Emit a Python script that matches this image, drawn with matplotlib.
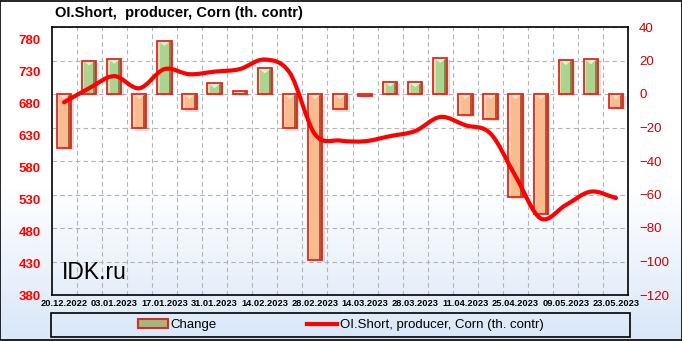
import matplotlib.pyplot as plt
import numpy as np
from matplotlib.colors import LinearSegmentedColormap
from matplotlib.patches import Rectangle, Patch, Polygon
from matplotlib.lines import Line2D
from matplotlib.path import Path
from matplotlib.patches import PathPatch

# Datos
fechas = ['20.12.2022', '27.12.2022', '03.01.2023', '10.01.2023', '17.01.2023', '24.01.2023',
          '31.01.2023', '07.02.2023', '14.02.2023', '21.02.2023', '28.02.2023', '07.03.2023',
          '14.03.2023', '21.03.2023', '28.03.2023', '04.04.2023', '11.04.2023', '18.04.2023',
          '25.04.2023', '02.05.2023', '09.05.2023', '16.05.2023', '23.05.2023']
cambio = [-32, 20, 21, -20.5, 31.8, -9.2, 6.4, 1.6, 15.3, -20.5, -99, -9.2, -1.2, 7.4, 7,
          21.5, -12.5, -15, -61.5, -71.6, 20.3, 20.7, -8.2]
oi_short = [682, 704, 723, 704, 734, 726, 730, 734, 749, 728, 632, 622, 621, 629, 637,
            659, 646, 633, 566, 500, 521, 542, 532]

titulo = 'OI.Short,  producer, Corn (th. contr)'
narrow = ['Liberation Sans Narrow', 'Liberation Sans', 'DejaVu Sans']
arial = ['Liberation Sans', 'DejaVu Sans']


def suavizar(xs, ys):
    """Camino Catmull-Rom como curvas Bezier cubicas."""
    xs = np.asarray(xs, float)
    ys = np.asarray(ys, float)
    n = len(xs)
    mx = np.gradient(xs)
    my = np.zeros(n)
    my[1:-1] = (ys[2:] - ys[:-2]) / 2
    my[0] = ys[1] - ys[0]
    my[-1] = ys[-1] - ys[-2]
    verts = [(xs[0], ys[0])]
    codes = [Path.MOVETO]
    for i in range(n - 1):
        verts += [(xs[i] + mx[i] / 3, ys[i] + my[i] / 3),
                  (xs[i + 1] - mx[i + 1] / 3, ys[i + 1] - my[i + 1] / 3),
                  (xs[i + 1], ys[i + 1])]
        codes += [Path.CURVE4] * 3
    return Path(verts, codes)


fig = plt.figure(figsize=(6.82, 3.41), dpi=100)

# fondo degradado blanco -> azul claro
fondo = fig.add_axes([0, 0, 1, 1], zorder=-10)
grad = np.linspace(0, 1, 341)[:, None]
cmap = LinearSegmentedColormap.from_list('bg', [(0, '#ffffff'), (0.55, '#ffffff'), (1, '#d9e7f8')])
fondo.imshow(grad, aspect='auto', cmap=cmap, extent=[0, 1, 0, 1], origin='upper')
fondo.set_xlim(0, 1)
fondo.set_ylim(0, 1)
fondo.axis('off')
fondo.add_patch(Rectangle((0.0007, 0.0015), 0.9986, 0.997, fill=False, edgecolor='black',
                          linewidth=1.2, transform=fondo.transAxes))

ax = fig.add_axes([52 / 682, 46 / 341, 576 / 682, 268 / 341])
ax.set_facecolor('none')
x = np.arange(len(fechas))
ancho = 0.57
ax.set_xlim(-0.48, len(fechas) - 0.52)
ax.set_ylim(-120, 40)

# px por unidad en eje derecho
k = 268 / 160
for xi, v in zip(x, cambio):
    neg = v < 0
    cara = '#fabb8e' if neg else '#acd48e'
    oscuro = '#9a4a2a' if neg else '#6f7d4a'
    claro = '#fde3cf' if neg else '#e3f2d6'
    # sombra
    ax.bar(xi + 0.1, v, ancho, bottom=-1.4, color='black', alpha=0.12, zorder=2, linewidth=0)
    ax.bar(xi, v, ancho, color=cara, zorder=3, linewidth=0)
    ax.bar(xi + ancho / 2 - 0.06, v, 0.12, color=oscuro, alpha=0.85, zorder=3.2, linewidth=0)
    ax.bar(xi - ancho / 2 + 0.05, v, 0.1, color=claro, alpha=0.6, zorder=3.2, linewidth=0)
    tope = max(v, 0)
    h = min(5 / k, abs(v))
    ax.add_patch(Polygon([(xi - ancho / 2 + 0.04, tope), (xi + ancho / 2 - 0.04, tope), (xi, tope - h)],
                         closed=True, facecolor=claro, edgecolor='none', zorder=3.4))
    ax.bar(xi, v, ancho, fill=False, edgecolor='#e3261d', linewidth=1.3, zorder=4)

ax.set_xticks(x[::2])
ax.set_xticklabels(fechas[::2], fontsize=6.7, fontweight='bold', family=narrow)
ax.set_xticks(x[:-1] + 0.5, minor=True)
ax.tick_params(axis='x', which='both', length=0, pad=3)
ax.grid(axis='x', which='minor', color='#b4b4b4', linestyle=(0, (4, 3)), linewidth=0.8)
ax.grid(axis='y', which='major', color='#b4b4b4', linestyle=(0, (4, 3)), linewidth=0.8)
ax.set_axisbelow(True)
for s in ax.spines.values():
    s.set_linewidth(1.2)

ax2 = ax.twinx()
ax2.set_ylim(380, 800)
ax2.set_yticks(np.arange(380, 781, 50))
ax2.yaxis.tick_left()
ax2.tick_params(axis='y', length=0, pad=8, labelsize=9.5, labelcolor='#ff0000')
for t in ax2.get_yticklabels():
    t.set_family(arial)
    t.set_fontweight('bold')
for s in ax2.spines.values():
    s.set_visible(False)
ax2.add_patch(PathPatch(suavizar(x, oi_short), facecolor='none', edgecolor='#ff0000',
                        linewidth=3, capstyle='round', joinstyle='round', zorder=5))

# eje derecho (cambio) despues de twinx
ax.yaxis.tick_right()
ax.set_yticks(np.arange(-120, 41, 20))
ax.tick_params(axis='y', length=0, pad=8, labelsize=9.5, labelcolor='#cc0000',
               left=False, labelleft=False, right=True, labelright=True)
for t in ax.get_yticklabels():
    t.set_family(arial)

ax.text(0.018, 0.06, 'IDK.ru', transform=ax.transAxes, fontsize=16.5, family=arial,
        color='black', zorder=6)

fig.text(55 / 682, 1 - 17 / 341, titulo, fontsize=10.5, fontweight='bold', family=narrow,
         va='baseline', ha='left')

# leyenda
x0, y0, w, h = 51 / 682, 4 / 341, 579 / 682, 24 / 341
fig.add_artist(Rectangle((x0, y0), w, h, transform=fig.transFigure, fill=False,
                         edgecolor='black', linewidth=1.2))
manejadores = [Patch(facecolor='#9dbb7f', edgecolor='#dd2a22', linewidth=1.5),
               Line2D([0], [0], color='#ff0000', linewidth=3)]
fig.legend(manejadores, ['Change', 'OI.Short, producer, Corn (th. contr)'],
           loc='center', bbox_to_anchor=(x0, y0, w, h), ncol=2, frameon=False,
           prop={'family': narrow, 'size': 9.5}, columnspacing=6.8, handlelength=2.3,
           handletextpad=0.2, borderaxespad=0)

fig.savefig('out.png', dpi=100)
